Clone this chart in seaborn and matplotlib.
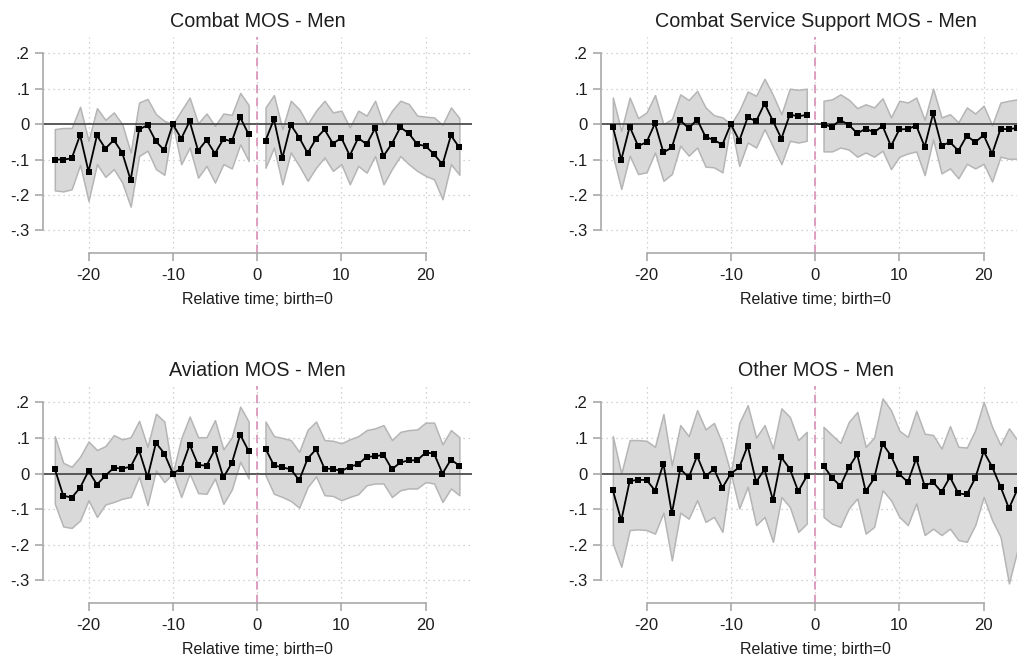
import numpy as np
import pandas as pd
import matplotlib
matplotlib.use("Agg")
import matplotlib.pyplot as plt
import seaborn as sns

# --------------------------
# Data
# --------------------------
t_pre = list(range(-24, 0))
t_post = list(range(1, 25))

# Combat MOS - Men
combat_b_pre = [-0.100, -0.100, -0.097, -0.031, -0.134, -0.032, -0.069, -0.045, -0.081, -0.158, -0.015, -0.003,
                -0.049, -0.074, 0.0, -0.041, 0.008, -0.075, -0.045, -0.083, -0.042, -0.049, 0.019, -0.029]
combat_hi_pre = [-0.014, -0.011, -0.011, 0.049, -0.047, 0.045, 0.012, 0.033, 0.0, -0.080, 0.061, 0.071,
                 0.028, 0.009, 0.0, 0.038, 0.075, 0.002, 0.030, -0.005, 0.030, 0.026, 0.088, 0.054]
combat_lo_pre = [-0.187, -0.190, -0.184, -0.115, -0.217, -0.113, -0.149, -0.127, -0.165, -0.233, -0.090, -0.075,
                 -0.127, -0.143, 0.0, -0.113, -0.066, -0.151, -0.118, -0.165, -0.113, -0.125, -0.057, -0.104]
combat_b_post = [-0.047, 0.014, -0.096, -0.002, -0.038, -0.082, -0.041, -0.015, -0.055, -0.039, -0.089, -0.039,
                 -0.057, -0.012, -0.090, -0.055, -0.009, -0.026, -0.057, -0.062, -0.085, -0.114, -0.032, -0.066]
combat_hi_post = [0.047, 0.082, -0.014, 0.066, 0.042, 0.0, 0.038, 0.066, 0.033, 0.038, -0.009, 0.038,
                  0.024, 0.066, -0.002, 0.038, 0.066, 0.057, 0.024, 0.021, 0.019, -0.002, 0.047, 0.017]
combat_lo_post = [-0.123, -0.066, -0.170, -0.080, -0.118, -0.160, -0.123, -0.094, -0.132, -0.113, -0.170, -0.118,
                  -0.137, -0.090, -0.170, -0.127, -0.090, -0.113, -0.132, -0.146, -0.156, -0.212, -0.113, -0.143]

# Combat Service Support MOS - Men
css_b_pre = [-0.008, -0.101, -0.007, -0.062, -0.051, 0.002, -0.080, -0.066, 0.011, -0.012, 0.013, -0.036,
             -0.045, -0.058, 0.0, -0.047, 0.019, 0.008, 0.058, 0.009, -0.041, 0.027, 0.022, 0.026]
css_hi_pre = [0.075, -0.019, 0.075, 0.017, 0.033, 0.082, 0.0, 0.014, 0.084, 0.068, 0.094, 0.047,
              0.025, 0.019, 0.0, 0.038, 0.092, 0.080, 0.128, 0.082, 0.028, 0.100, 0.097, 0.100]
css_lo_pre = [-0.089, -0.183, -0.089, -0.141, -0.136, -0.080, -0.160, -0.141, -0.061, -0.089, -0.066, -0.120,
              -0.122, -0.136, 0.0, -0.118, -0.052, -0.066, -0.014, -0.064, -0.113, -0.047, -0.052, -0.047]
css_b_post = [-0.002, -0.007, 0.011, -0.002, -0.026, -0.013, -0.023, -0.005, -0.062, -0.015, -0.014, -0.004,
              -0.064, 0.030, -0.061, -0.051, -0.075, -0.033, -0.051, -0.031, -0.084, -0.014, -0.014, -0.011]
css_hi_post = [0.066, 0.070, 0.084, 0.069, 0.045, 0.056, 0.047, 0.073, 0.019, 0.066, 0.061, 0.075,
               0.012, 0.100, 0.019, 0.028, 0.005, 0.047, 0.030, 0.052, -0.003, 0.061, 0.066, 0.070]
css_lo_post = [-0.077, -0.077, -0.066, -0.072, -0.092, -0.080, -0.092, -0.075, -0.127, -0.092, -0.083, -0.077,
               -0.144, -0.043, -0.139, -0.125, -0.153, -0.112, -0.125, -0.112, -0.162, -0.092, -0.098, -0.098]

# Aviation MOS - Men
avi_b_pre = [0.013, -0.062, -0.068, -0.040, 0.007, -0.031, -0.006, 0.016, 0.014, 0.019, 0.065, -0.011,
             0.086, 0.056, 0.0, 0.014, 0.081, 0.024, 0.022, 0.068, -0.011, 0.029, 0.109, 0.063]
avi_hi_pre = [0.105, 0.030, 0.019, 0.047, 0.090, 0.066, 0.077, 0.108, 0.096, 0.102, 0.148, 0.075,
              0.168, 0.146, 0.0, 0.099, 0.160, 0.102, 0.102, 0.150, 0.068, 0.102, 0.188, 0.146]
avi_lo_pre = [-0.085, -0.149, -0.153, -0.132, -0.075, -0.122, -0.087, -0.080, -0.071, -0.066, -0.009, -0.089,
              0.009, -0.024, 0.0, -0.066, 0.0, -0.055, -0.057, -0.014, -0.085, -0.045, 0.033, -0.014]
avi_b_post = [0.070, 0.023, 0.017, 0.012, -0.019, 0.042, 0.068, 0.014, 0.013, 0.007, 0.019, 0.026,
              0.047, 0.048, 0.053, 0.012, 0.031, 0.037, 0.037, 0.059, 0.056, 0.0, 0.039, 0.022]
avi_hi_post = [0.146, 0.105, 0.100, 0.094, 0.061, 0.123, 0.146, 0.094, 0.092, 0.085, 0.096, 0.105,
               0.122, 0.127, 0.136, 0.094, 0.117, 0.122, 0.124, 0.143, 0.143, 0.082, 0.122, 0.102]
avi_lo_post = [-0.005, -0.057, -0.066, -0.077, -0.096, -0.038, -0.008, -0.061, -0.063, -0.075, -0.066, -0.058,
               -0.033, -0.028, -0.028, -0.066, -0.047, -0.042, -0.042, -0.024, -0.028, -0.080, -0.042, -0.061]

# Other MOS - Men
oth_b_pre = [-0.047, -0.132, -0.021, -0.018, -0.018, -0.048, 0.028, -0.112, 0.013, -0.011, 0.049, -0.008,
             0.013, -0.040, 0.0, 0.017, 0.078, -0.024, 0.012, -0.075, 0.045, 0.013, -0.050, -0.008]
oth_hi_pre = [0.105, 0.0, 0.094, 0.094, 0.092, 0.075, 0.167, 0.023, 0.136, 0.105, 0.178, 0.124,
              0.142, 0.084, 0.0, 0.142, 0.192, 0.101, 0.136, 0.070, 0.183, 0.159, 0.094, 0.117]
oth_lo_pre = [-0.197, -0.262, -0.159, -0.157, -0.159, -0.169, -0.110, -0.244, -0.110, -0.127, -0.075, -0.136,
              -0.122, -0.164, 0.0, -0.098, -0.037, -0.145, -0.122, -0.192, -0.066, -0.094, -0.164, -0.141]
oth_b_post = [0.022, -0.012, -0.035, 0.017, 0.054, -0.050, -0.014, 0.084, 0.050, -0.002, -0.024, 0.042,
              -0.035, -0.024, -0.052, -0.010, -0.056, -0.059, -0.013, 0.062, 0.019, -0.037, -0.098, -0.045]
oth_hi_post = [0.131, 0.108, 0.086, 0.145, 0.173, 0.075, 0.101, 0.211, 0.178, 0.120, 0.103, 0.176,
               0.112, 0.108, 0.070, 0.133, 0.075, 0.073, 0.122, 0.201, 0.131, 0.080, 0.127, 0.094]
oth_lo_post = [-0.122, -0.141, -0.150, -0.098, -0.070, -0.169, -0.150, -0.047, -0.075, -0.122, -0.145, -0.084,
               -0.173, -0.155, -0.173, -0.155, -0.187, -0.192, -0.145, -0.066, -0.131, -0.178, -0.309, -0.216]

titles = ["Combat MOS - Men", "Combat Service Support MOS - Men", "Aviation MOS - Men", "Other MOS - Men"]
yticks = [0.2, 0.1, 0.0, -0.1, -0.2, -0.3]
ytick_labels = [".2", ".1", "0", "-.1", "-.2", "-.3"]
xticks = [-20, -10, 0, 10, 20]
xtick_labels = ["-20", "-10", "0", "10", "20"]
xlabel = "Relative time; birth=0"

panels = [
    (combat_b_pre, combat_lo_pre, combat_hi_pre, combat_b_post, combat_lo_post, combat_hi_post),
    (css_b_pre, css_lo_pre, css_hi_pre, css_b_post, css_lo_post, css_hi_post),
    (avi_b_pre, avi_lo_pre, avi_hi_pre, avi_b_post, avi_lo_post, avi_hi_post),
    (oth_b_pre, oth_lo_pre, oth_hi_pre, oth_b_post, oth_lo_post, oth_hi_post),
]

# --------------------------
# Style
# --------------------------
sns.set_style("white")
plt.rcParams["font.family"] = ["Liberation Sans", "DejaVu Sans"]

spine_col = "#a9a9a9"
text_col = "#1e1e1e"

fig = plt.figure(figsize=(10.17, 6.56), dpi=100)
fig.patch.set_facecolor("white")

# axes rectangles in figure fractions (left, bottom, width, height)
positions = [
    (0.0423, 0.6143, 0.4218, 0.3293),
    (0.5910, 0.6143, 0.4218, 0.3293),
    (0.0423, 0.0808, 0.4218, 0.3308),
    (0.5910, 0.0808, 0.4218, 0.3308),
]

for title, pos, (b_pre, lo_pre, hi_pre, b_post, lo_post, hi_post) in zip(titles, positions, panels):
    ax = fig.add_axes(pos)
    df = pd.DataFrame({
        "t": t_pre + t_post,
        "b": b_pre + b_post,
        "period": ["pre"] * len(t_pre) + ["post"] * len(t_post),
    })

    # confidence bands
    for t, lo, hi in [(t_pre, lo_pre, hi_pre), (t_post, lo_post, hi_post)]:
        ax.fill_between(t, lo, hi, facecolor="#d9d9d9", edgecolor="#b5b5b5", linewidth=1.1, zorder=1)

    # grid
    for yv in yticks:
        if yv != 0:
            ax.axhline(yv, color="#c4c4c4", linestyle=(0, (1, 3)), linewidth=0.9, zorder=0)
    for xv in xticks:
        ax.axvline(xv, color="#c4c4c4", linestyle=(0, (1, 3)), linewidth=0.9, zorder=0)

    ax.axhline(0, color="#4d4d4d", linewidth=1.3, zorder=2)
    ax.axvline(0, color="#d98fb5", linestyle=(0, (5, 3)), linewidth=1.2, zorder=2)

    sns.lineplot(data=df, x="t", y="b", units="period", estimator=None, color="black",
                 marker="s", markersize=4, markeredgewidth=0, linewidth=1.3, ax=ax, zorder=3)

    ax.set_xlim(-25.4, 25.5)
    ax.set_ylim(-0.364, 0.246)
    ax.set_xticks(xticks)
    ax.set_xticklabels(xtick_labels)
    ax.set_yticks(yticks)
    ax.set_yticklabels(ytick_labels)
    ax.set_xlabel(xlabel, fontsize=11.5, color=text_col, labelpad=6)
    ax.set_ylabel("")
    ax.set_title(title, fontsize=14.2, color=text_col, pad=7)

    for side in ["top", "right"]:
        ax.spines[side].set_visible(False)
    ax.spines["left"].set_bounds(-0.3, 0.2)
    ax.spines["bottom"].set_bounds(-20, 20)
    for side in ["left", "bottom"]:
        ax.spines[side].set_color(spine_col)
        ax.spines[side].set_linewidth(1.2)
    ax.tick_params(axis="both", which="major", direction="out", length=6, width=1.2,
                   color=spine_col, labelcolor=text_col, labelsize=12, left=True, bottom=True)
    ax.tick_params(axis="x", pad=5)
    ax.patch.set_alpha(0)

fig.savefig("out.png", dpi=100, facecolor="white")
